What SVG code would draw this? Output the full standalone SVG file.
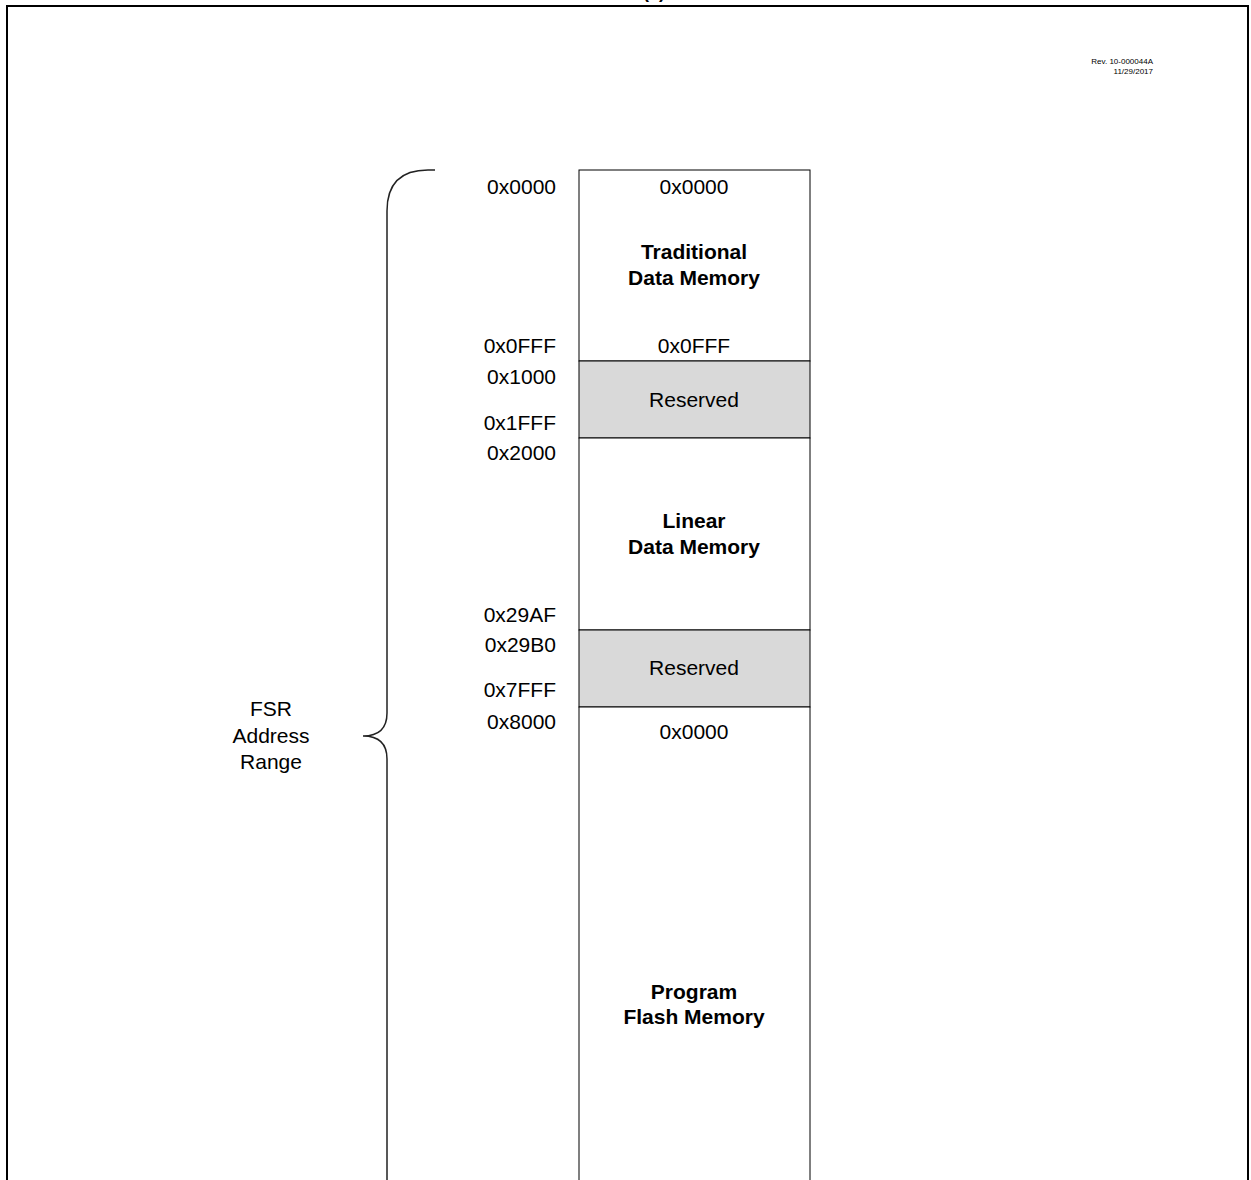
<svg xmlns="http://www.w3.org/2000/svg" width="1251" height="1180" viewBox="0 0 1251 1180">
<style>
text{font-family:"Liberation Sans",Arial,sans-serif;fill:#000}
.a{font-size:21px}
.l{text-anchor:end}
.c{text-anchor:middle}
.b{font-weight:bold}
.box{fill:#fff;stroke:#000;stroke-width:1}
.res{fill:#d9d9d9;stroke:#000;stroke-width:1}
.brace{fill:none;stroke:#222;stroke-width:1.5}
</style>
<rect x="0" y="0" width="1251" height="1180" fill="#fff"/>
<text class="c b" x="654" y="-2" font-size="18">(1)</text>
<path d="M7,1180 V6 H1248 V1180" fill="none" stroke="#000" stroke-width="2"/>
<text x="1153" y="64" font-size="8" class="l">Rev. 10-000044A</text>
<text x="1153" y="74" font-size="8" class="l">11/29/2017</text>
<g id="connectors">
<path class="brace" d="M435,170 H428 Q387,170 387,211 V713 Q387,736 363,736 Q387,736 387,759 V1180"/>
</g>
<g id="traditional">
<rect class="box" x="579" y="170" width="231" height="191"/>
<text class="a c" x="694" y="194">0x0000</text>
<text class="a c b" x="694" y="259">Traditional</text>
<text class="a c b" x="694" y="285">Data Memory</text>
<text class="a c" x="694" y="353">0x0FFF</text>
</g>
<g id="reserved1">
<rect class="res" x="579" y="361" width="231" height="77"/>
<text class="a c" x="694" y="407">Reserved</text>
</g>
<g id="linear">
<rect class="box" x="579" y="438" width="231" height="192"/>
<text class="a c b" x="694" y="528">Linear</text>
<text class="a c b" x="694" y="554">Data Memory</text>
</g>
<g id="reserved2">
<rect class="res" x="579" y="630" width="231" height="77"/>
<text class="a c" x="694" y="675">Reserved</text>
</g>
<g id="flash">
<rect class="box" x="579" y="707" width="231" height="480"/>
<text class="a c" x="694" y="739">0x0000</text>
<text class="a c b" x="694" y="999">Program</text>
<text class="a c b" x="694" y="1024">Flash Memory</text>
</g>
<g id="addresses">
<text class="a l" x="556" y="194">0x0000</text>
<text class="a l" x="556" y="353">0x0FFF</text>
<text class="a l" x="556" y="384">0x1000</text>
<text class="a l" x="556" y="430">0x1FFF</text>
<text class="a l" x="556" y="460">0x2000</text>
<text class="a l" x="556" y="622">0x29AF</text>
<text class="a l" x="556" y="652">0x29B0</text>
<text class="a l" x="556" y="697">0x7FFF</text>
<text class="a l" x="556" y="729">0x8000</text>
</g>
<g id="fsr">
<text class="a c" x="271" y="716">FSR</text>
<text class="a c" x="271" y="743">Address</text>
<text class="a c" x="271" y="769">Range</text>
</g>
</svg>
